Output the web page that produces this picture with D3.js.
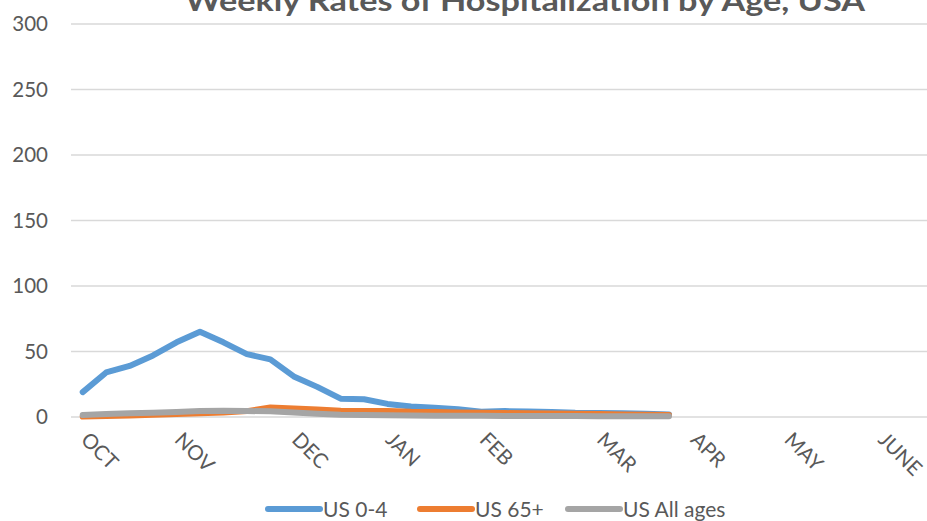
<!DOCTYPE html>
<html><head><meta charset="utf-8">
<script src="https://cdn.jsdelivr.net/npm/d3@7"></script>
<style>body{margin:0;background:#fff}svg{display:block}</style>
</head><body><div id="chart"></div>
<script>
// ---- data ----
const weeks = [40,41,42,43,44,45,46,47,48,49,50,51,52,1,2,3,4,5,6,7,8,9,10,11,12,13,14,15,16,17,18,19,20,21,22,23,24];
const monthLabels = ["OCT","NOV","DEC","JAN","FEB","MAR","APR","MAY","JUNE"];
const monthLabelWeeks = [40,44,49,1,5,10,14,18,22];
const yTicks = [0,50,100,150,200,250,300];
const seriesNames = ["US 0-4","US 65+","US All ages"];
const us04 = [19,34,39,47,57,65,57,48,44,31,23,14,13.5,10,8,7,6,4,4.5,4.2,3.8,3.2,3,2.8,2.5,2];
const us65 = [0.3,0.8,1.2,1.8,2.3,2.8,3.5,4.5,7.2,6.5,5.8,4.8,4.5,4.6,4.0,3.8,3.5,3.2,3,2.8,2.6,2.4,2.2,2,1.8,1.5];
const usAll = [1.5,2.2,2.8,3.3,3.9,4.5,4.8,4.6,4.3,3.5,2.5,1.8,1.5,1.3,1.1,1,1,0.9,0.8,0.8,0.7,0.7,0.6,0.6,0.5,0.5];
const colors = ["#5B9BD5","#ED7D31","#A5A5A5"];
const title = "Weekly Rates of Hospitalization by Age, USA";

const W = 927, H = 521;
const svg = d3.select("#chart").append("svg").attr("width", W).attr("height", H);
const plotLeft = 71, plotTop = 24, plotBottom = 417;
const bandW = 23.45;
const x = d3.scaleBand().domain(weeks).range([plotLeft, plotLeft + bandW * weeks.length]).padding(0);
const y = d3.scaleLinear().domain([0,300]).range([plotBottom, plotTop]);
const font = "Lato, 'Open Sans', sans-serif";

// gridlines
svg.append("g").selectAll("line").data(yTicks).join("line")
  .attr("x1", plotLeft).attr("x2", W)
  .attr("y1", d => y(d)).attr("y2", d => y(d))
  .attr("stroke", "#D9D9D9").attr("stroke-width", 1.5);

// y axis labels
const yAxis = d3.axisLeft(y).tickValues(yTicks).tickSize(0).tickPadding(0);
const gy = svg.append("g").attr("transform", `translate(48,0)`).call(yAxis);
gy.select(".domain").remove();
gy.selectAll("text").attr("font-family", font).attr("font-size", 20.5).attr("fill", "#595959");

// x axis labels
const gx = svg.append("g");
gx.selectAll("text").data(monthLabels).join("text")
  .attr("transform", (d,i) => `translate(${x(monthLabelWeeks[i]) + bandW/2 - 3},${441}) rotate(45)`)
  .attr("font-family", font).attr("font-size", 20.5).attr("fill", "#595959")
  .text(d => d);

// lines
const allSeries = [us04, us65, usAll];
const line = d3.line().x((d,i) => x(weeks[i]) + bandW/2).y(d => y(d));
svg.append("g").selectAll("path").data(allSeries).join("path")
  .attr("d", d => line(d)).attr("fill", "none")
  .attr("stroke", (d,i) => colors[i]).attr("stroke-width", 6)
  .attr("stroke-linejoin", "round").attr("stroke-linecap", "round");

// title
svg.append("text").attr("x", 525).attr("y", 11).attr("text-anchor", "middle")
  .attr("font-family", font).attr("font-weight", "bold").attr("font-size", 28)
  .attr("fill", "#595959").attr("textLength", 680).attr("lengthAdjust", "spacingAndGlyphs")
  .text(title);

// legend
const legX = [268, 420, 568];
const lg = svg.append("g");
seriesNames.forEach((n,i) => {
  lg.append("line").attr("x1", legX[i]).attr("x2", legX[i] + 52).attr("y1", 509).attr("y2", 509)
    .attr("stroke", colors[i]).attr("stroke-width", 6).attr("stroke-linecap", "round");
  lg.append("text").attr("x", legX[i] + 55).attr("y", 516.5)
    .attr("font-family", font).attr("font-size", 21).attr("fill", "#595959").text(n);
});
</script></body></html>
